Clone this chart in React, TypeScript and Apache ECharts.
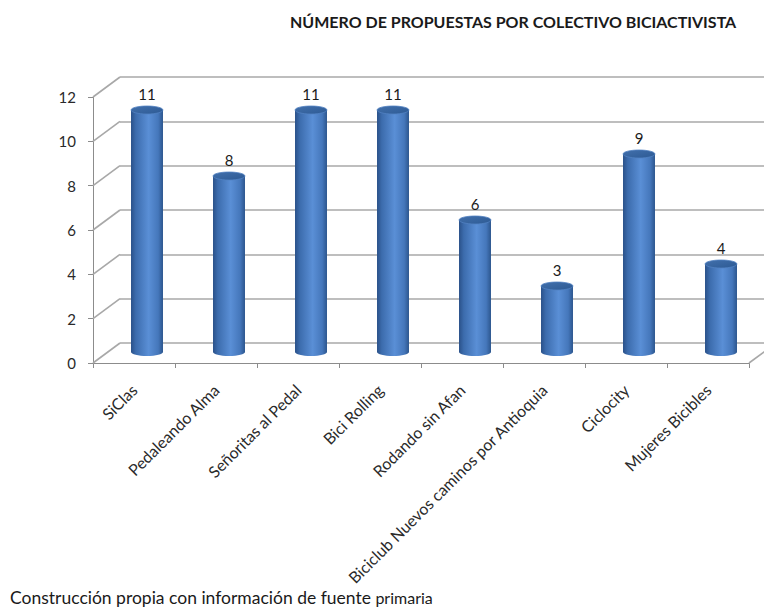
import React, { useEffect, useRef } from "react";
import * as echarts from "echarts";

const categories = [
  "SiClas",
  "Pedaleando Alma",
  "Señoritas al Pedal",
  "Bici Rolling",
  "Rodando sin Afan",
  "Biciclub Nuevos caminos por Antioquia",
  "Ciclocity",
  "Mujeres Bicibles",
];
const proposals = [11, 8, 11, 11, 6, 3, 9, 4];
const yMin = 0;
const yMax = 12;
const yStep = 2;
const yTicks = [0, 2, 4, 6, 8, 10, 12];

const titleText = "NÚMERO DE PROPUESTAS POR COLECTIVO BICIACTIVISTA";
const footerMain = "Construcción propia con información de fuente ";
const footerSmall = "primaria";

const DEPTH_X = 27;
const DEPTH_Y = -20;
const FONT = "Lato, 'Open Sans', sans-serif";

export default function App() {
  const ref = useRef<HTMLDivElement>(null);

  useEffect(() => {
    document.body.style.margin = "0";
    const chart = echarts.init(ref.current!, null, { renderer: "svg" });

    const valueAxisBase = {
      type: "value",
      min: yMin,
      max: yMax,
      interval: yStep,
    };

    const option: any = {
      animation: false,
      backgroundColor: "#ffffff",
      title: {
        text: titleText,
        left: 285,
        top: 8,
        textStyle: {
          fontFamily: FONT,
          fontWeight: "bold",
          fontSize: 16,
          color: "#1a1a1a",
        },
      },
      grid: [
        // back wall
        { left: 120, top: 77, height: 266, width: 656, containLabel: false },
        // front plane (axes)
        { left: 93, top: 97, height: 266, width: 656, containLabel: false },
        // mid plane (bars)
        { left: 106, top: 88, height: 264, width: 656, containLabel: false },
      ],
      xAxis: [
        {
          gridIndex: 0,
          type: "category",
          data: categories,
          show: false,
        },
        {
          gridIndex: 1,
          type: "category",
          data: categories,
          axisLine: { show: true, lineStyle: { color: "#8c8c8c", width: 1 } },
          axisTick: { show: true, length: 5, lineStyle: { color: "#8c8c8c" } },
          axisLabel: {
            interval: 0,
            rotate: 45,
            margin: 24,
            fontFamily: FONT,
            fontSize: 16,
            color: "#2a2a2a",
          },
          splitLine: { show: false },
        },
        {
          gridIndex: 2,
          type: "category",
          data: categories,
          show: false,
        },
      ],
      yAxis: [
        {
          ...valueAxisBase,
          gridIndex: 0,
          axisLine: { show: false },
          axisTick: { show: false },
          axisLabel: { show: false },
          splitLine: { show: true, lineStyle: { color: "#a8a8a8", width: 1.6 } },
        },
        {
          ...valueAxisBase,
          gridIndex: 1,
          axisLine: { show: true, lineStyle: { color: "#8c8c8c", width: 1 } },
          axisTick: { show: true, length: 5, lineStyle: { color: "#8c8c8c" } },
          axisLabel: {
            margin: 17,
            fontFamily: FONT,
            fontSize: 15,
            color: "#2a2a2a",
          },
          splitLine: { show: false },
        },
        {
          ...valueAxisBase,
          gridIndex: 2,
          show: false,
          splitLine: { show: false },
        },
      ],
      series: [
        {
          // left wall diagonals and floor right edge
          type: "custom",
          xAxisIndex: 1,
          yAxisIndex: 1,
          clip: false,
          silent: true,
          z: 1,
          data: [[0, 0]],
          renderItem: (params: any, api: any) => {
            const bw = api.size([1, 0])[0];
            const children: any[] = [];
            yTicks.forEach((v) => {
              const c = api.coord([0, v]);
              const x0 = c[0] - bw / 2;
              children.push({
                type: "line",
                shape: { x1: x0, y1: c[1], x2: x0 + DEPTH_X, y2: c[1] + DEPTH_Y },
                style: { stroke: "#a8a8a8", lineWidth: 1.6 },
              });
            });
            const cr = api.coord([categories.length - 1, 0]);
            const xr = cr[0] + bw / 2;
            children.push({
              type: "line",
              shape: { x1: xr, y1: cr[1], x2: xr + DEPTH_X, y2: cr[1] + DEPTH_Y },
              style: { stroke: "#a8a8a8", lineWidth: 1.6 },
            });
            return { type: "group", children };
          },
        },
        {
          // cylinders
          type: "custom",
          xAxisIndex: 2,
          yAxisIndex: 2,
          clip: false,
          z: 5,
          data: proposals.map((v, i) => [i, v]),
          renderItem: (params: any, api: any) => {
            const idx = api.value(0);
            const val = api.value(1);
            const top = api.coord([idx, val]);
            const base = api.coord([idx, 0]);
            const bw = api.size([1, 0])[0] * 0.39;
            const rx = bw / 2;
            const ry = 4;
            const side = new echarts.graphic.LinearGradient(0, 0, 1, 0, [
              { offset: 0, color: "#2a5189" },
              { offset: 0.15, color: "#3c6cad" },
              { offset: 0.55, color: "#5a8fd6" },
              { offset: 0.85, color: "#4577bb" },
              { offset: 1, color: "#2c568e" },
            ]);
            const cap = new echarts.graphic.LinearGradient(0, 0, 1, 1, [
              { offset: 0, color: "#4270ac" },
              { offset: 1, color: "#2d5a94" },
            ]);
            return {
              type: "group",
              children: [
                {
                  type: "ellipse",
                  shape: { cx: top[0], cy: base[1], rx, ry },
                  style: { fill: side },
                },
                {
                  type: "rect",
                  shape: { x: top[0] - rx, y: top[1], width: bw, height: base[1] - top[1] },
                  style: { fill: side },
                },
                {
                  type: "ellipse",
                  shape: { cx: top[0], cy: top[1], rx, ry },
                  style: { fill: cap, stroke: "#5282c2", lineWidth: 0.8 },
                },
                {
                  type: "text",
                  style: {
                    text: String(val),
                    x: top[0],
                    y: top[1] - 16,
                    align: "center",
                    verticalAlign: "middle",
                    fontFamily: FONT,
                    fontSize: 15,
                    fill: "#1a1a1a",
                  },
                },
              ],
            };
          },
        },
      ],
      graphic: [
        {
          type: "text",
          left: 10,
          top: 588,
          style: {
            text: `{a|${footerMain}}{b|${footerSmall}}`,
            rich: {
              a: { fontFamily: FONT, fontSize: 17.5, fill: "#1a1a1a" },
              b: { fontFamily: FONT, fontSize: 16, fill: "#1a1a1a" },
            },
          },
        },
      ],
    };

    chart.setOption(option);
    return () => chart.dispose();
  }, []);

  return <div ref={ref} style={{ width: 764, height: 610 }} />;
}
